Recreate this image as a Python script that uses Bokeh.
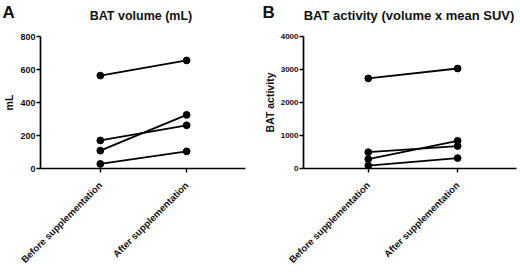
from bokeh.plotting import figure
from bokeh.layouts import row, column
from bokeh.models import Range1d, FixedTicker
from bokeh.core.properties import value
from bokeh.embed import file_html
from bokeh.resources import INLINE
import math

categories = ["Before supplementation", "After supplementation"]

vol_before = [563, 170, 108, 28]
vol_after = [655, 262, 325, 104]
vol_ticks = [0, 200, 400, 600, 800]

act_before = [2730, 495, 285, 88]
act_after = [3030, 680, 840, 315]
act_ticks = [0, 1000, 2000, 3000, 4000]

panel_letters = ["A", "B"]
panel_titles = ["BAT volume (mL)", "BAT activity (volume x mean SUV)"]

FONT = "Liberation Sans"
INK = "#111111"
TOP_H = 26

# header strip with panel letters and titles (pixel coordinates, y downward)
top = figure(width=520, height=TOP_H, output_backend="svg", toolbar_location=None,
             x_range=Range1d(0, 520), y_range=Range1d(TOP_H, 0),
             x_axis_type=None, y_axis_type=None, min_border=0)
top.outline_line_color = None
top.grid.visible = False
top.text(x=[2, 262], y=[2, 2], text=panel_letters, text_align="left", text_baseline="top",
         text_font=value(FONT), text_font_style="bold", text_font_size="17px", text_color=INK)
top.text(x=[140.5], y=[15], text=[panel_titles[0]], text_align="center", text_baseline="middle",
         text_font=value(FONT), text_font_style="bold", text_font_size="12.5px", text_color=INK)
top.text(x=[408.5], y=[15], text=[panel_titles[1]], text_align="center", text_baseline="middle",
         text_font=value(FONT), text_font_style="bold", text_font_size="13px", text_color=INK)


def make_panel(ylabel, before, after, yticks, xr, borders, ytick_size):
    left, right, topb, bottom = borders
    p = figure(width=260, height=272 - TOP_H, output_backend="svg", toolbar_location=None,
               x_range=Range1d(*xr), y_range=Range1d(yticks[0], yticks[-1]),
               min_border_left=left, min_border_right=right,
               min_border_top=topb, min_border_bottom=bottom)
    p.outline_line_color = None
    p.background_fill_color = "white"
    p.border_fill_color = "white"
    p.grid.visible = False
    xs = list(range(len(categories)))
    for b, a in zip(before, after):
        p.line(xs, [b, a], line_color="black", line_width=1.8)
        p.scatter(xs, [b, a], size=6.8, fill_color="black", line_color="black")
    p.xaxis.ticker = FixedTicker(ticks=xs)
    p.xaxis.major_label_overrides = {i: c for i, c in enumerate(categories)}
    p.xaxis.major_label_orientation = math.pi / 4
    p.yaxis.ticker = FixedTicker(ticks=yticks)
    p.yaxis.axis_label = ylabel
    for ax in (p.xaxis[0], p.yaxis[0]):
        ax.axis_line_width = 1.7
        ax.axis_line_color = "black"
        ax.major_tick_line_width = 1.4
        ax.major_tick_line_color = "black"
        ax.major_tick_in = 0
        ax.major_tick_out = 4
        ax.minor_tick_line_color = None
        ax.major_label_text_font = FONT
        ax.major_label_text_font_style = "bold"
        ax.major_label_text_color = INK
        ax.axis_label_text_font = FONT
        ax.axis_label_text_font_style = "bold"
        ax.axis_label_text_color = INK
        ax.axis_label_text_font_size = "10.5px"
    p.yaxis.major_label_standoff = 1
    p.yaxis.axis_label_standoff = 2
    p.xaxis.major_label_standoff = 11
    p.xaxis.major_label_text_font_size = "9.6px"
    p.yaxis.major_label_text_font_size = ytick_size
    return p


pa = make_panel("mL", vol_before, vol_after, vol_ticks,
                (-0.693, 1.682), (36, 15, 32 - TOP_H, 104), "9px")
pb = make_panel("BAT activity", act_before, act_after, act_ticks,
                (-0.725, 1.659), (39, 4, 36 - TOP_H, 100), "8px")

layout = column(top, row(pa, pb))
open("out.html", "w").write(file_html(layout, INLINE))
